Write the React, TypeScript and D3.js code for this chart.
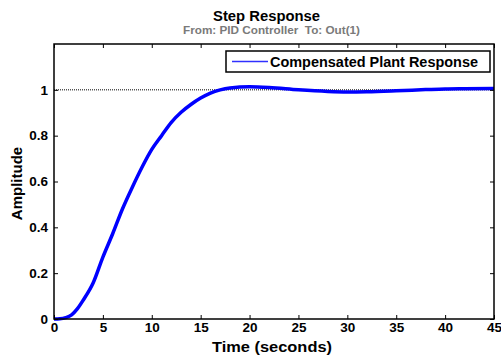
import React, { useEffect, useRef } from 'react';
import * as d3 from 'd3';

// step response samples
const timeSec = [0, 0.6, 1.2, 1.8, 2.4, 3, 4, 5, 6, 7, 8, 9, 10, 11, 12, 13, 14, 15, 16, 17, 18, 20, 22, 25, 28, 30, 32, 35, 38, 40, 42, 45];
const amplitude = [0, 0.001, 0.006, 0.018, 0.045, 0.083, 0.157, 0.27, 0.372, 0.48, 0.574, 0.662, 0.74, 0.8, 0.858, 0.902, 0.936, 0.964, 0.986, 1.0, 1.008, 1.013, 1.01, 1.0, 0.993, 0.991, 0.992, 0.996, 1.001, 1.004, 1.005, 1.006];
const xTicks = [0, 5, 10, 15, 20, 25, 30, 35, 40, 45];
const yTicks = [0, 0.2, 0.4, 0.6, 0.8, 1];
const legendLabel = 'Compensated Plant Response';

const App = () => {
  const svgRef = useRef<SVGSVGElement>(null);

  useEffect(() => {
    if (!svgRef.current) return;
    const root = d3.select(svgRef.current);
    root.selectAll('*').remove();

    const margin = { top: 44, right: 7, bottom: 39, left: 54 };
    const W = 501, H = 358;
    const width = W - margin.left - margin.right;
    const height = H - margin.top - margin.bottom;
    const font = '"Liberation Sans", Arial, sans-serif';

    root.append('rect').attr('width', W).attr('height', H).attr('fill', '#fff');

    const g = root.append('g').attr('transform', `translate(${margin.left},${margin.top})`);

    const x = d3.scaleLinear().domain([0, 45]).range([0, width]);
    const y = d3.scaleLinear().domain([0, 1.2]).range([height, 0]);

    // reference line at 1
    g.append('line')
      .attr('x1', 0).attr('x2', width)
      .attr('y1', y(1)).attr('y2', y(1))
      .attr('stroke', '#000').attr('stroke-width', 1)
      .attr('stroke-dasharray', '1,1');

    // response curve
    const line = d3.line<number>()
      .x((_, i) => x(timeSec[i]))
      .y(d => y(d))
      .curve(d3.curveMonotoneX);
    g.append('path')
      .datum(amplitude)
      .attr('d', line)
      .attr('fill', 'none')
      .attr('stroke', '#0000ff')
      .attr('stroke-width', 3.5)
      .attr('stroke-linejoin', 'round');

    // axes box with inward ticks
    const tickLen = 4;
    const bottom = g.append('g').attr('transform', `translate(0,${height})`)
      .call(d3.axisBottom(x).tickValues(xTicks).tickSizeInner(-tickLen).tickSizeOuter(0).tickPadding(3).tickFormat(d3.format('d')));
    const top = g.append('g')
      .call(d3.axisTop(x).tickValues(xTicks).tickSizeInner(-tickLen).tickSizeOuter(0).tickFormat(() => ''));
    const left = g.append('g')
      .call(d3.axisLeft(y).tickValues(yTicks).tickSizeInner(-tickLen).tickSizeOuter(0).tickPadding(6).tickFormat(d => d3.format('~g')(d as number)));
    const right = g.append('g').attr('transform', `translate(${width},0)`)
      .call(d3.axisRight(y).tickValues(yTicks).tickSizeInner(-tickLen).tickSizeOuter(0).tickFormat(() => ''));

    [bottom, top, left, right].forEach(a => {
      a.select('.domain').remove();
      a.selectAll('line').attr('stroke', '#000').attr('stroke-width', 1);
      a.selectAll('text')
        .attr('fill', '#000')
        .style('font-family', font)
        .style('font-weight', 'bold')
        .style('font-size', '13.5px');
    });

    g.append('rect')
      .attr('width', width).attr('height', height)
      .attr('fill', 'none').attr('stroke', '#000').attr('stroke-width', 1.5);

    // titles
    root.append('text')
      .attr('x', 213).attr('y', 21)
      .attr('textLength', 107).attr('lengthAdjust', 'spacingAndGlyphs')
      .style('font-family', font).style('font-weight', 'bold').style('font-size', '14.5px')
      .text('Step Response');
    root.append('text')
      .attr('x', 183).attr('y', 34)
      .attr('textLength', 177).attr('lengthAdjust', 'spacingAndGlyphs')
      .attr('fill', '#7a7a7a')
      .style('white-space', 'pre')
      .style('font-family', font).style('font-weight', 'bold').style('font-size', '11px')
      .text('From: PID Controller  To: Out(1)');
    root.append('text')
      .attr('x', 212).attr('y', 352)
      .attr('textLength', 120).attr('lengthAdjust', 'spacingAndGlyphs')
      .style('font-family', font).style('font-weight', 'bold').style('font-size', '15px')
      .text('Time (seconds)');
    root.append('text')
      .attr('transform', `translate(22,${margin.top + height / 2 + 2}) rotate(-90)`)
      .attr('text-anchor', 'middle')
      .style('font-family', font).style('font-weight', 'bold').style('font-size', '15px')
      .text('Amplitude');

    // legend
    const lg = root.append('g').attr('transform', 'translate(226,51)');
    lg.append('rect')
      .attr('width', 264).attr('height', 21)
      .attr('fill', '#fff').attr('stroke', '#000').attr('stroke-width', 1.5);
    lg.append('line')
      .attr('x1', 6).attr('x2', 42).attr('y1', 10.5).attr('y2', 10.5)
      .attr('stroke', '#3030ff').attr('stroke-width', 1.5);
    lg.append('text')
      .attr('x', 44).attr('y', 16)
      .attr('textLength', 208).attr('lengthAdjust', 'spacingAndGlyphs')
      .style('font-family', font).style('font-weight', 'bold').style('font-size', '14px')
      .text(legendLabel);
  }, []);

  return (
    <svg
      ref={svgRef}
      width={501}
      height={358}
      style={{ position: 'absolute', left: 0, top: 0 }}
    />
  );
};

export default App;
